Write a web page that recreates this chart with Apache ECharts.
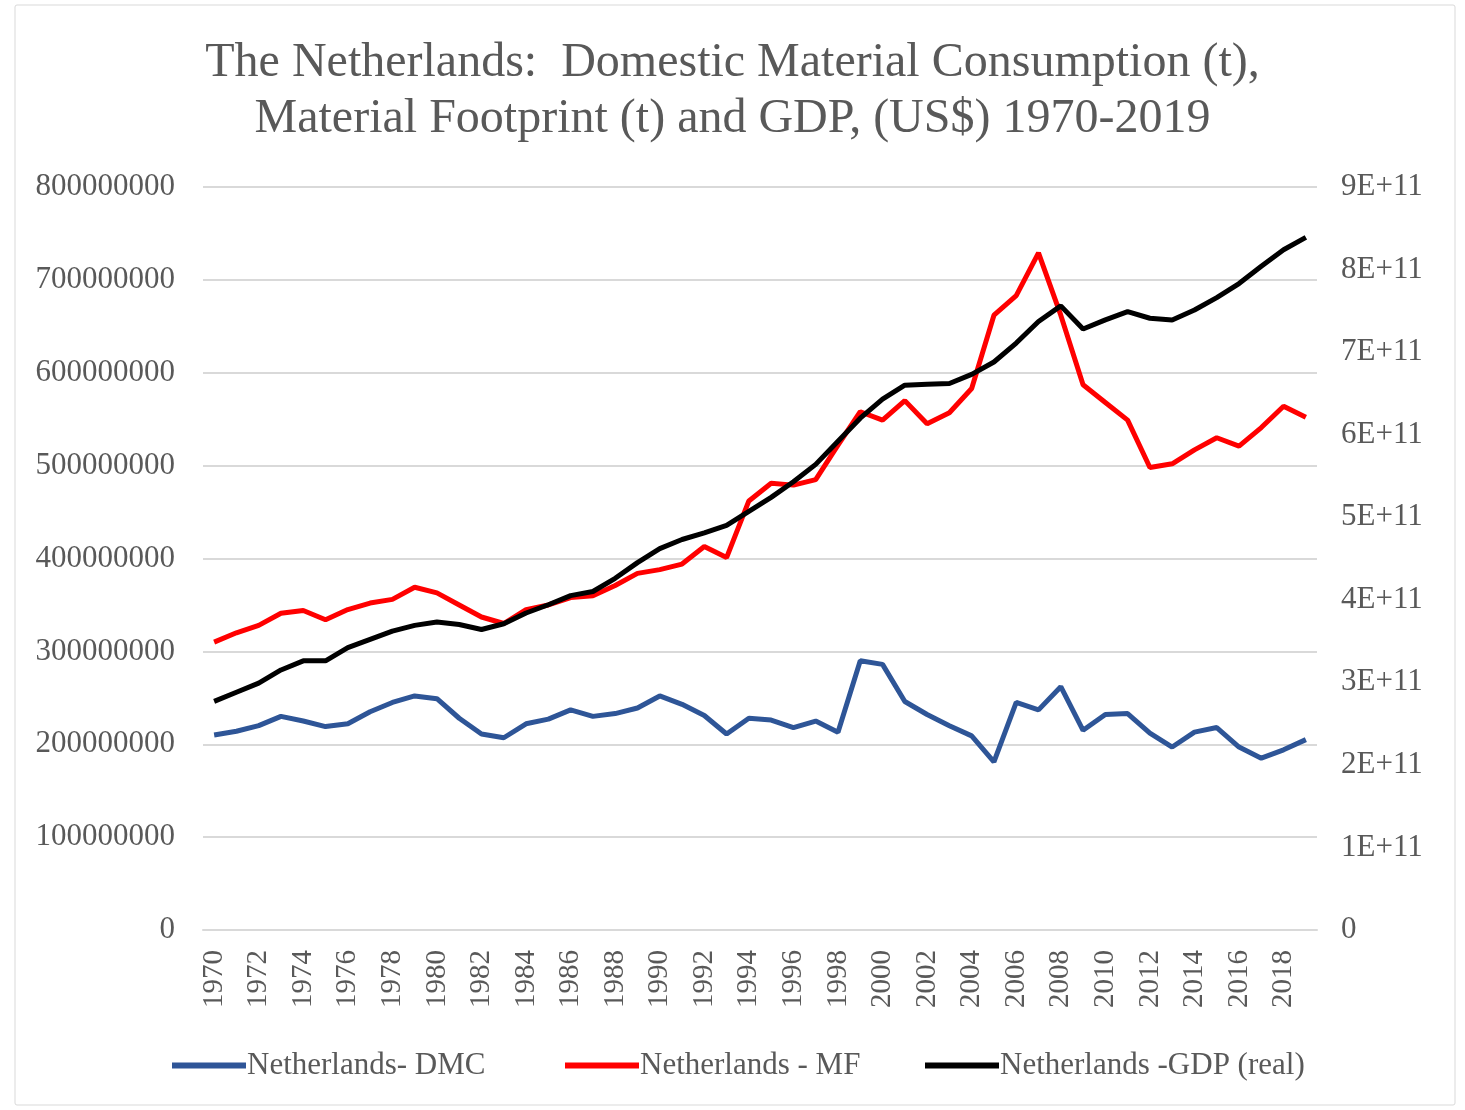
<!DOCTYPE html>
<html>
<head>
<meta charset="utf-8">
<script src="https://cdn.jsdelivr.net/npm/echarts@6/dist/echarts.min.js"></script>
<style>
html,body{margin:0;padding:0;background:#fff;}
#chart{width:1465px;height:1110px;}
</style>
</head>
<body>
<div id="chart"></div>
<script>
const years = [];
for (let y = 1970; y <= 2019; y++) years.push(String(y));

const dmc = [
  210, 214, 220, 230, 225, 219, 222, 235, 245, 252,
  249, 228, 211, 207, 222, 227, 237, 230, 233, 239,
  252, 243, 231, 211, 228, 226, 218, 225, 213, 290,
  286, 246, 232, 220, 209, 181, 245, 237, 262, 215,
  232, 233, 212, 197, 213, 218, 197, 185, 194, 205
].map(v => v * 1e6);

const mf = [
  310, 320, 328, 341, 344, 334, 345, 352, 356, 369,
  363, 350, 337, 330, 345, 350, 358, 360, 371, 384,
  388, 394, 413, 401, 462, 481, 479, 485, 522, 558,
  549, 570, 545, 557, 583, 662, 683, 729, 662, 587,
  568, 549, 498, 502, 517, 530, 521, 541, 564, 552
].map(v => v * 1e6);

const gdp = [
  2.77, 2.88, 2.99, 3.15, 3.26, 3.26, 3.42, 3.52, 3.62, 3.69,
  3.73, 3.70, 3.64, 3.71, 3.84, 3.94, 4.05, 4.10, 4.26, 4.45,
  4.62, 4.73, 4.81, 4.90, 5.07, 5.24, 5.43, 5.64, 5.92, 6.20,
  6.43, 6.60, 6.61, 6.62, 6.73, 6.88, 7.11, 7.37, 7.56, 7.28,
  7.39, 7.49, 7.41, 7.39, 7.51, 7.66, 7.83, 8.04, 8.24, 8.39
].map(v => v * 1e11);

const seriesNames = ['Netherlands- DMC', 'Netherlands - MF', 'Netherlands -GDP (real)'];
const seriesColors = ['#2E5597', '#FF0000', '#000000'];

const FONT = '"Liberation Serif", "DejaVu Serif", serif';
const TXT = '#595959';

const chart = echarts.init(document.getElementById('chart'));
const legendBase = {
  orient: 'horizontal', top: 1045, itemWidth: 74, itemHeight: 6, itemGap: 0,
  icon: 'rect',
  textStyle: { fontFamily: FONT, fontSize: 31, color: TXT, padding: [0,0,0,-4] }
};
chart.setOption({
  animation: false,
  backgroundColor: '#fff',
  graphic: [{
    type: 'rect', shape: { x: 15, y: 5, width: 1440, height: 1100, r: 2 },
    style: { fill: 'none', stroke: '#d9d9d9', lineWidth: 1 }, silent: true
  }],
  title: {
    text: 'The Netherlands:  Domestic Material Consumption (t),\nMaterial Footprint (t) and GDP, (US$) 1970-2019',
    left: 'center', top: 30,
    textStyle: { fontFamily: FONT, fontSize: 48, fontWeight: 'normal', color: TXT, lineHeight: 56 }
  },
  legend: [
    Object.assign({}, legendBase, { left: 167, data: [seriesNames[0]] }),
    Object.assign({}, legendBase, { left: 560, data: [seriesNames[1]] }),
    Object.assign({}, legendBase, { left: 920, data: [seriesNames[2]] })
  ],
  grid: { left: 203, right: 148, top: 187, bottom: 180, containLabel: false },
  xAxis: {
    type: 'category', data: years, boundaryGap: true,
    axisLine: { show: true, lineStyle: { color: '#d9d9d9', width: 2 } },
    axisTick: { show: false },
    axisLabel: { rotate: 90, interval: 1, margin: 20, fontFamily: FONT, fontSize: 29, color: TXT }
  },
  yAxis: [
    {
      type: 'value', min: 0, max: 800000000, interval: 100000000,
      axisLine: { show: false }, axisTick: { show: false },
      splitLine: { lineStyle: { color: '#d9d9d9', width: 2 } },
      axisLabel: { margin: 28, fontFamily: FONT, fontSize: 31, color: TXT, formatter: v => String(v) }
    },
    {
      type: 'value', min: 0, max: 900000000000, interval: 100000000000,
      axisLine: { show: false }, axisTick: { show: false }, splitLine: { show: false },
      axisLabel: { margin: 24, fontFamily: FONT, fontSize: 31, color: TXT,
        formatter: v => v === 0 ? '0' : Math.round(v / 1e11) + 'E+11' }
    }
  ],
  series: [
    { name: seriesNames[0], type: 'line', data: dmc, yAxisIndex: 0, showSymbol: false,
      lineStyle: { width: 5, color: seriesColors[0] }, itemStyle: { color: seriesColors[0] } },
    { name: seriesNames[1], type: 'line', data: mf, yAxisIndex: 0, showSymbol: false,
      lineStyle: { width: 5, color: seriesColors[1] }, itemStyle: { color: seriesColors[1] } },
    { name: seriesNames[2], type: 'line', data: gdp, yAxisIndex: 1, showSymbol: false,
      lineStyle: { width: 5, color: seriesColors[2] }, itemStyle: { color: seriesColors[2] } }
  ]
});
</script>
</body>
</html>
